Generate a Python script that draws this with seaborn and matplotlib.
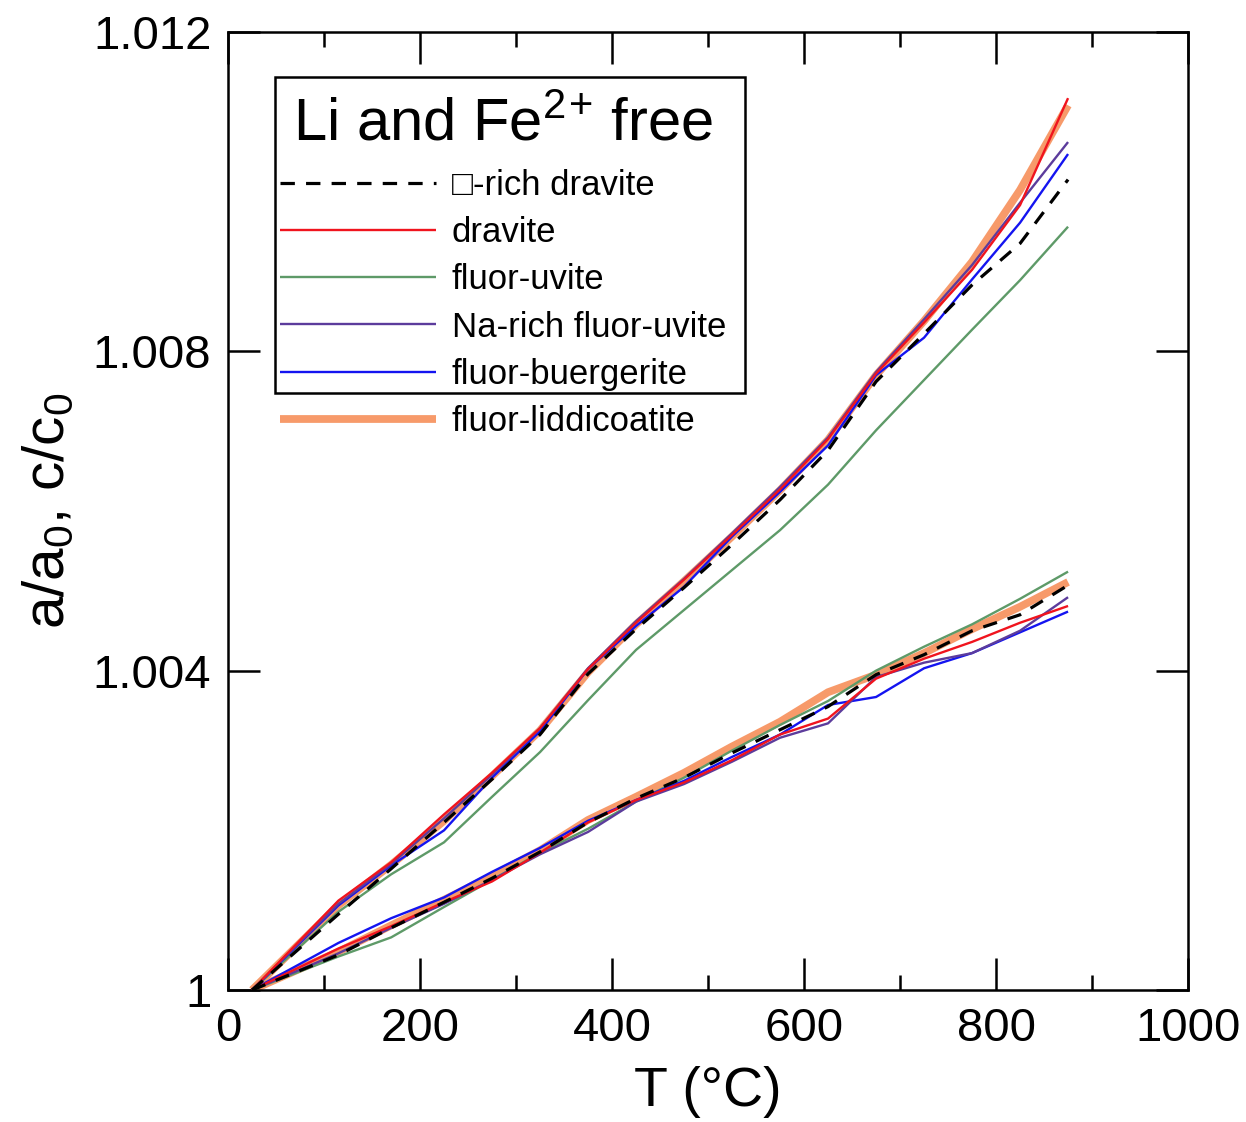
import numpy as np
import pandas as pd
import matplotlib.pyplot as plt
import seaborn as sns
from matplotlib.patches import Rectangle
from matplotlib.ticker import MultipleLocator

# temperatures (deg C)
T = [25, 115, 170, 225, 275, 325, 375, 425, 475, 525, 575, 625, 675, 725, 775, 825, 875]

# relative expansion, in units of 1e-3  (value = 1 + x/1000)
# c/c0 (upper bundle)
c_vac_dravite = [0, 0.95, 1.52, 2.10, 2.64, 3.20, 3.96, 4.52, 5.04, 5.58, 6.14, 6.76, 7.62, 8.22, 8.83, 9.35, 10.15]
c_dravite     = [0, 1.12, 1.60, 2.20, 2.72, 3.28, 4.02, 4.60, 5.14, 5.70, 6.27, 6.90, 7.72, 8.36, 9.02, 9.83, 11.17]
c_fluor_uvite = [0, 0.98, 1.45, 1.85, 2.42, 2.98, 3.63, 4.26, 4.76, 5.26, 5.76, 6.33, 7.01, 7.64, 8.27, 8.89, 9.56]
c_na_uvite    = [0, 1.08, 1.58, 2.15, 2.70, 3.28, 4.03, 4.62, 5.15, 5.72, 6.30, 6.92, 7.74, 8.40, 9.08, 9.86, 10.62]
c_buergerite  = [0, 1.06, 1.56, 2.00, 2.66, 3.24, 4.02, 4.56, 5.05, 5.68, 6.24, 6.82, 7.70, 8.17, 8.90, 9.61, 10.47]
c_liddicoat   = [0, 1.06, 1.57, 2.12, 2.68, 3.25, 3.98, 4.58, 5.12, 5.68, 6.26, 6.89, 7.70, 8.38, 9.12, 10.02, 11.08]

# a/a0 (lower bundle)
a_vac_dravite = [0, 0.44, 0.78, 1.10, 1.40, 1.73, 2.10, 2.40, 2.66, 2.97, 3.26, 3.55, 3.95, 4.20, 4.50, 4.70, 5.07]
a_dravite     = [0, 0.52, 0.80, 1.10, 1.36, 1.72, 2.10, 2.38, 2.60, 2.88, 3.20, 3.40, 3.90, 4.15, 4.36, 4.60, 4.81]
a_fluor_uvite = [0, 0.42, 0.66, 1.04, 1.38, 1.72, 2.02, 2.36, 2.66, 3.00, 3.32, 3.62, 4.00, 4.30, 4.58, 4.90, 5.24]
a_na_uvite    = [0, 0.46, 0.78, 1.08, 1.38, 1.70, 1.98, 2.36, 2.58, 2.86, 3.16, 3.34, 3.92, 4.10, 4.22, 4.50, 4.92]
a_buergerite  = [0, 0.59, 0.90, 1.16, 1.48, 1.78, 2.12, 2.38, 2.62, 2.92, 3.20, 3.57, 3.67, 4.03, 4.22, 4.48, 4.74]
a_liddicoat   = [0, 0.48, 0.81, 1.13, 1.43, 1.75, 2.13, 2.42, 2.72, 3.05, 3.36, 3.73, 3.95, 4.22, 4.52, 4.80, 5.11]

labels = ["\u25a1-rich dravite", "dravite", "fluor-uvite", "Na-rich fluor-uvite",
          "fluor-buergerite", "fluor-liddicoatite"]
c_series = [c_vac_dravite, c_dravite, c_fluor_uvite, c_na_uvite, c_buergerite, c_liddicoat]
a_series = [a_vac_dravite, a_dravite, a_fluor_uvite, a_na_uvite, a_buergerite, a_liddicoat]

colors = ["black", "#f0141e", "#5e9a68", "#5c3c9c", "#1414f0", "#f79a6a"]
widths = [2.3, 1.7, 1.7, 1.7, 1.7, 5.6]
styles = [(0, (4.5, 3.5)), "-", "-", "-", "-", "-"]
zorders = [8, 6, 3, 5, 4, 2]

sns.set_style("white")
plt.rcParams['font.family'] = ['Liberation Sans', 'DejaVu Sans']
plt.rcParams['mathtext.default'] = 'regular'
plt.rcParams['text.color'] = 'black'
plt.rcParams['axes.labelcolor'] = 'black'

fig = plt.figure(figsize=(12.46, 11.22), dpi=100)
ax = fig.add_axes([0.183, 0.1176, 0.7705, 0.854])

handles = []
for i in range(6):
    for ser in (c_series[i], a_series[i]):
        df = pd.DataFrame({"T": T, "v": [1 + x / 1000 for x in ser]})
        sns.lineplot(data=df, x="T", y="v", ax=ax, color=colors[i], lw=widths[i],
                     ls=styles[i], zorder=zorders[i], solid_capstyle='butt')
    handles.append(ax.lines[-1])

ax.set_xlim(0, 1000)
ax.set_ylim(1, 1.012)
ax.set_xticks([0, 200, 400, 600, 800, 1000])
ax.set_xticklabels(["0", "200", "400", "600", "800", "1000"])
ax.xaxis.set_minor_locator(MultipleLocator(100))
ax.set_yticks([1, 1.004, 1.008, 1.012])
ax.set_yticklabels(["1", "1.004", "1.008", "1.012"])
ax.tick_params(which='both', direction='in', top=True, right=True, bottom=True,
               left=True, width=1.8, labelsize=34, colors='black')
ax.tick_params(which='major', length=23, pad=12)
ax.tick_params(which='minor', length=11)
ax.tick_params(axis='y', which='minor', left=False, right=False)
for sp in ax.spines.values():
    sp.set_linewidth(1.8)
    sp.set_color('black')

ax.set_xlabel("T (\u00b0C)", fontsize=40, labelpad=11)
ax.set_ylabel("a/a$_0$, c/c$_0$", fontsize=42, labelpad=12)

ax.text(0.068, 0.887, "Li and Fe$^{2}$$^{+}$ free", transform=ax.transAxes,
        fontsize=43, ha='left', va='baseline', zorder=20)
leg = ax.legend(handles, labels, loc='upper left', bbox_to_anchor=(0.054, 0.857),
                frameon=False, fontsize=25, handlelength=4.5, handletextpad=0.45,
                labelspacing=0.41, borderaxespad=0, borderpad=0)
leg.set_zorder(20)
ax.add_patch(Rectangle((0.049, 0.623), 0.4895, 0.33, transform=ax.transAxes,
                       fill=False, edgecolor='black', lw=1.8, zorder=19))

fig.savefig("out.png", dpi=100, facecolor='white')
